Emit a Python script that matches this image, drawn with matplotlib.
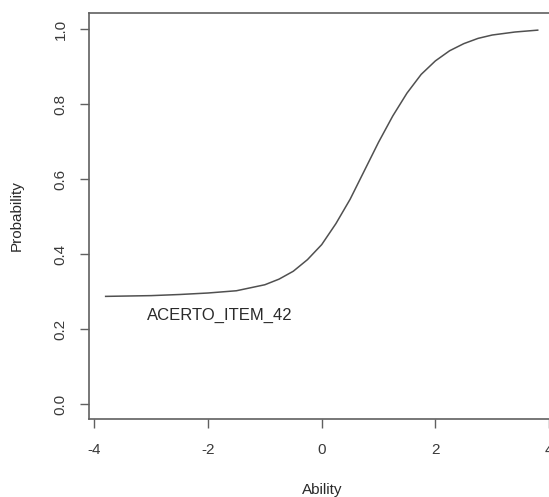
import matplotlib
matplotlib.use("Agg")
import matplotlib.pyplot as plt

# item characteristic curve values
ability = [-3.8, -3.0, -2.5, -2.0, -1.5, -1.0, -0.75, -0.5, -0.25, 0.0,
           0.25, 0.5, 0.75, 1.0, 1.25, 1.5, 1.75, 2.0, 2.25, 2.5,
           2.75, 3.0, 3.4, 3.8]
probability = [0.287, 0.289, 0.292, 0.296, 0.302, 0.318, 0.333, 0.354, 0.385, 0.425,
               0.481, 0.546, 0.622, 0.698, 0.768, 0.829, 0.879, 0.915, 0.942, 0.961,
               0.975, 0.984, 0.992, 0.997]
item_name = "ACERTO_ITEM_42"
label_pos = (-1.79, 0.235)

x_ticks = [-4, -2, 0, 2, 4]
y_ticks = [0.0, 0.2, 0.4, 0.6, 0.8, 1.0]

plt.rcParams['font.family'] = ['Liberation Sans', 'DejaVu Sans']

fig = plt.figure(figsize=(5.49, 4.97), dpi=100)
ax = fig.add_axes([89 / 549, 78 / 497, 466 / 549, 406 / 497])

ax.plot(ability, probability, color='#505050', lw=1.1)
ax.text(label_pos[0], label_pos[1], item_name, ha='center', va='center',
        fontsize=12, color='#2a2a2a')

ax.set_xlim(-4.093, 4.104)
ax.set_ylim(-0.04, 1.0427)

ax.set_xticks(x_ticks)
ax.set_xticklabels([str(t) for t in x_ticks])
ax.set_yticks(y_ticks)
ax.set_yticklabels([f"{t:.1f}" for t in y_ticks], rotation=90, va='center')

ax.tick_params(direction='out', length=6.5, width=1.0, color='#606060',
               labelsize=11, labelcolor='#3a3a3a')
ax.tick_params(axis='x', pad=11)
ax.tick_params(axis='y', pad=9)

for s in ax.spines.values():
    s.set_color('#606060')
    s.set_linewidth(1.2)

ax.set_xlabel('Ability', fontsize=11, color='#2a2a2a')
ax.set_ylabel('Probability', fontsize=11, color='#2a2a2a')
ax.xaxis.set_label_coords(0.5, -0.175)
ax.yaxis.set_label_coords(-0.1545, 0.5)
ax.xaxis.label.set_va('center')
ax.yaxis.label.set_va('center')

fig.savefig('out.png', dpi=100)
